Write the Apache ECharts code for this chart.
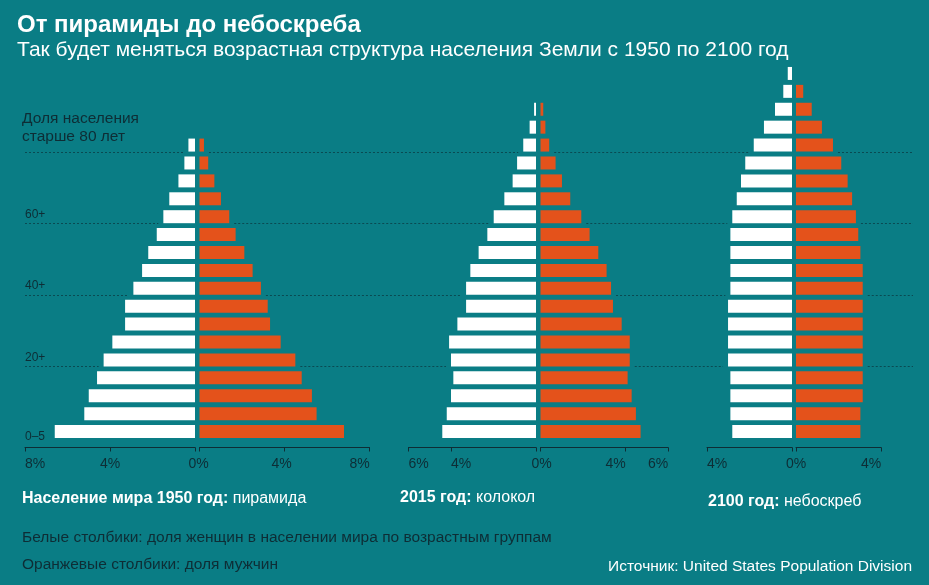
<!DOCTYPE html>
<html>
<head>
<meta charset="utf-8">
<script src="https://cdn.jsdelivr.net/npm/echarts@6/dist/echarts.min.js"></script>
<style>
html,body{margin:0;padding:0;background:#0a7d85;}
#c{width:929px;height:585px;}
</style>
</head>
<body>
<div id="c"></div>
<script>
// ---------- DATA ----------
const categories = ['0–4','5–9','10–14','15–19','20–24','25–29','30–34','35–39','40–44','45–49',
  '50–54','55–59','60–64','65–69','70–74','75–79','80–84','85–89','90–94','95–99','100+'];
const ageLabelRows = [0, 4, 8, 12];
const ageLabels = ['0–5', '20+', '40+', '60+'];
const thresholdRows = [4, 8, 12, 16];

const female1950 = [6.60, 5.21, 5.00, 4.61, 4.30, 3.89, 3.29, 3.29, 2.90, 2.49, 2.20, 1.80, 1.49, 1.21, 0.78, 0.50, 0.31, null, null, null, null];
const male1950   = [6.80, 5.51, 5.29, 4.81, 4.51, 3.82, 3.32, 3.21, 2.89, 2.50, 2.11, 1.70, 1.40, 1.01, 0.70, 0.41, 0.21, null, null, null, null];
const female2015 = [4.41, 4.20, 4.00, 3.89, 4.00, 4.09, 3.70, 3.29, 3.29, 3.09, 2.70, 2.29, 1.99, 1.49, 1.10, 0.89, 0.60, 0.30, 0.09, null, null];
const male2015   = [4.71, 4.49, 4.29, 4.10, 4.20, 4.20, 3.82, 3.41, 3.32, 3.11, 2.72, 2.31, 1.92, 1.40, 1.01, 0.71, 0.41, 0.23, 0.13, null, null];
const female2100 = [2.81, 2.90, 2.90, 2.90, 3.01, 3.01, 3.01, 3.01, 2.90, 2.90, 2.90, 2.90, 2.81, 2.60, 2.40, 2.20, 1.80, 1.32, 0.80, 0.41, 0.20];
const male2100   = [3.03, 3.03, 3.14, 3.14, 3.14, 3.14, 3.14, 3.14, 3.14, 3.14, 3.03, 2.93, 2.82, 2.64, 2.43, 2.13, 1.74, 1.22, 0.74, 0.34, 0];

const axisMax = [8, 6, 4];
const tickValues = [[0, 4, 8], [0, 4, 6], [0, 4]];

// ---------- STYLE / LAYOUT ----------
const BG = '#0a7d85';
const ORANGE = '#e4521b';
const DARK = '#0e2d35';
const LINE = '#0a4a52';
const FONT = '"Liberation Sans", Arial, sans-serif';
const PX_PER_PCT = 21.25;
const GRID_TOP = 64.5, GRID_H = 376;
const layout = [
  {leftX: 25,    rightX: 199.5, leftShift: {8: 10, 4: 0},  rightShift: {0: -1, 4: -3, 8: -10}},
  {leftX: 408.5, rightX: 540.5, leftShift: {6: 10, 4: 10}, rightShift: {0: 1, 4: -10, 6: -10}},
  {leftX: 707,   rightX: 796,   leftShift: {4: 10},        rightShift: {0: 0, 4: -10}}
];
const femaleData = [female1950, female2015, female2100];
const maleData = [male1950, male2015, male2100];

const grids = [], xAxes = [], yAxes = [], series = [];
function labelFormatter(shifts) {
  return function (v) {
    const s = shifts[v] || 0;
    const t = v + '%';
    if (s > 0) return '{r' + Math.round(s * 2) + '|' + t + '}';
    if (s < 0) return '{l' + Math.round(-s * 2) + '|' + t + '}';
    return '{c|' + t + '}';
  };
}
function richFor(shifts) {
  const rich = {c: {fontSize: 14, color: DARK, fontFamily: FONT}};
  Object.keys(shifts).forEach(k => {
    const s = shifts[k];
    if (s > 0) rich['r' + Math.round(s * 2)] = {fontSize: 14, color: DARK, fontFamily: FONT, padding: [0, 0, 0, Math.round(s * 2)]};
    if (s < 0) rich['l' + Math.round(-s * 2)] = {fontSize: 14, color: DARK, fontFamily: FONT, padding: [0, Math.round(-s * 2), 0, 0]};
  });
  return rich;
}

for (let p = 0; p < 3; p++) {
  const L = layout[p];
  const w = axisMax[p] * PX_PER_PCT;
  ['left', 'right'].forEach((side, s) => {
    const gi = p * 2 + s;
    grids.push({left: side === 'left' ? L.leftX : L.rightX, top: GRID_TOP, width: w, height: GRID_H});
    const shifts = side === 'left' ? L.leftShift : L.rightShift;
    const labelVals = side === 'left' ? tickValues[p].filter(v => v !== 0) : tickValues[p];
    xAxes.push({
      gridIndex: gi, type: 'value', min: 0, max: axisMax[p], inverse: side === 'left',
      position: 'bottom', offset: 7,
      splitLine: {show: false},
      axisLine: {show: true, lineStyle: {color: DARK, width: 1}},
      axisTick: {show: true, length: 4, inside: false, customValues: tickValues[p], lineStyle: {color: DARK, width: 1}},
      axisLabel: {show: true, customValues: labelVals, margin: 10, color: DARK, fontSize: 14, fontFamily: FONT,
        formatter: labelFormatter(shifts), rich: richFor(shifts)}
    });
    const isMainY = (p === 0 && side === 'left');
    yAxes.push({
      gridIndex: gi, type: 'category', data: categories, position: 'left',
      axisLine: {show: false}, axisTick: {show: false}, splitLine: {show: false},
      axisLabel: isMainY ? {
        show: true, inside: true, margin: 0, interval: 0,
        formatter: function (v, i) {
          const k = ageLabelRows.indexOf(i);
          if (k < 0) return '';
          return (i === 0 ? '{lo|' : '{up|') + ageLabels[k] + '}';
        },
        rich: {
          lo: {fontSize: 12, color: DARK, fontFamily: FONT, padding: [11, 0, 0, 0]},
          up: {fontSize: 12, color: DARK, fontFamily: FONT, padding: [0, 0, 5, 0]}
        }
      } : {show: false}
    });
    series.push({
      type: 'bar', xAxisIndex: gi, yAxisIndex: gi, barWidth: 13, silent: true,
      data: side === 'left' ? femaleData[p] : maleData[p],
      itemStyle: {color: side === 'left' ? '#ffffff' : ORANGE}
    });
  });
}

function txt(id, x, y, text, opts) {
  return Object.assign({type: 'text', id: id, x: x, y: y, silent: true, z: 10,
    style: Object.assign({text: text, fill: '#ffffff', fontSize: 15.5, fontFamily: FONT, textVerticalAlign: 'middle'}, opts || {})});
}
const boldRich = {b: {fontWeight: 'bold', fill: '#ffffff', fontSize: 16, fontFamily: FONT}};
const texts = [
  txt('t1', 17, 25, 'От пирамиды до небоскреба', {fontSize: 24, fontWeight: 'bold'}),
  txt('t2', 17, 50, 'Так будет меняться возрастная структура населения Земли с 1950 по 2100 год', {fontSize: 21}),
  txt('t3', 22, 109, 'Доля населения\nстарше 80 лет', {fill: DARK, fontSize: 15.5, textVerticalAlign: 'top', lineHeight: 18.5}),
  txt('c1', 22, 499, '{b|Население мира 1950 год:} пирамида', {rich: boldRich, fontSize: 16}),
  txt('c2', 400, 498, '{b|2015 год:} колокол', {rich: boldRich, fontSize: 16}),
  txt('c3', 708, 502, '{b|2100 год:} небоскреб', {rich: boldRich, fontSize: 16}),
  txt('n1', 22, 538, 'Белые столбики: доля женщин в населении мира по возрастным группам', {fill: DARK}),
  txt('n2', 22, 565, 'Оранжевые столбики: доля мужчин', {fill: DARK}),
  txt('s1', 912, 567, 'Источник: United States Population Division', {textAlign: 'right', fontSize: 15.5})
];

const chart = echarts.init(document.getElementById('c'), null, {renderer: 'canvas'});
chart.setOption({
  backgroundColor: BG,
  animation: false,
  grid: grids, xAxis: xAxes, yAxis: yAxes, series: series,
  graphic: [{elements: texts}]
});

// dotted threshold lines with gaps around the bars (positions from the axes)
const lines = [];
const X_START = 25, X_END = 913, GAP = 5;
thresholdRows.forEach((r, ri) => {
  const cy = chart.convertToPixel({gridIndex: 0}, [0, r])[1];
  const y = Math.round(cy + 6.5) + 0.5;
  let segStart = X_START;
  for (let p = 0; p < 3; p++) {
    const f = femaleData[p][r] || 0, m = maleData[p][r] || 0;
    const xl = chart.convertToPixel({gridIndex: p * 2}, [f, r])[0];
    const xr = chart.convertToPixel({gridIndex: p * 2 + 1}, [m, r])[0];
    lines.push({type: 'line', id: 'ln' + ri + '_' + p, silent: true, z: 0,
      shape: {x1: segStart, y1: y, x2: xl - GAP, y2: y},
      style: {stroke: LINE, lineWidth: 1, lineDash: [2, 2]}});
    segStart = xr + GAP;
  }
  lines.push({type: 'line', id: 'ln' + ri + '_end', silent: true, z: 0,
    shape: {x1: segStart, y1: y, x2: X_END, y2: y},
    style: {stroke: LINE, lineWidth: 1, lineDash: [2, 2]}});
});
chart.setOption({graphic: [{elements: texts.concat(lines)}]});
</script>
</body>
</html>
